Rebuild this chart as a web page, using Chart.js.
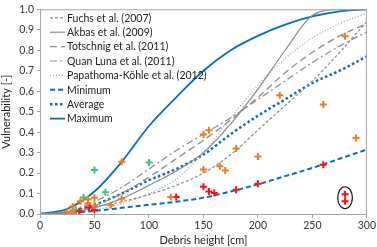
<!DOCTYPE html>
<html>
<head>
<meta charset="utf-8">
<script src="https://cdn.jsdelivr.net/npm/chart.js@4"></script>
<style>
  html, body { margin: 0; padding: 0; background: #fff; }
  #wrap { width: 377px; height: 247px; }
</style>
</head>
<body>
<div id="wrap"><canvas id="vulnChart"></canvas></div>
<script>
// --- curve data (debris height in cm, vulnerability 0..1) ---
const heights   = [0, 25, 50, 75, 100, 125, 150, 175, 200, 225, 250, 275, 300];
const fuchs     = [0, 0.01, 0.035, 0.06, 0.095, 0.14, 0.2, 0.29, 0.41, 0.53, 0.65, 0.79, 0.94];
const akbas     = [0, 0.005, 0.03, 0.075, 0.14, 0.21, 0.3, 0.44, 0.61, 0.8, 0.97, 1.0, 1.0];
const totschnig = [0, 0.01, 0.04, 0.1, 0.18, 0.27, 0.36, 0.46, 0.57, 0.69, 0.79, 0.87, 0.93];
const quanLuna  = [0, 0.015, 0.06, 0.13, 0.22, 0.31, 0.39, 0.47, 0.56, 0.65, 0.74, 0.82, 0.89];
const papathoma = [0, 0.005, 0.02, 0.05, 0.1, 0.17, 0.3, 0.47, 0.63, 0.76, 0.86, 0.93, 0.98];
const minimum   = [0, 0.005, 0.015, 0.03, 0.045, 0.06, 0.08, 0.11, 0.145, 0.185, 0.225, 0.27, 0.315];
const average   = [0, 0.01, 0.045, 0.1, 0.165, 0.22, 0.29, 0.39, 0.48, 0.56, 0.64, 0.70, 0.77];
const maximum   = [0, 0.025, 0.11, 0.255, 0.43, 0.57, 0.70, 0.80, 0.87, 0.925, 0.965, 0.99, 1.0];

// --- observed damage points ---
const orangeX = [25, 29, 30, 37, 44, 44, 50, 50, 65, 75, 75, 120, 150, 155, 150, 165, 170, 180, 200, 220, 260, 280, 290];
const orangeY = [0.011, 0.006, 0.037, 0.062, 0.072, 0.052, 0.079, 0.04, 0.043, 0.075, 0.255, 0.083, 0.388, 0.409, 0.217, 0.233, 0.213, 0.32, 0.281, 0.58, 0.535, 0.868, 0.371];
const redX = [36, 45, 50, 125, 150, 155, 160, 180, 200, 260, 280, 280];
const redY = [0.014, 0.033, 0.019, 0.083, 0.133, 0.11, 0.102, 0.119, 0.148, 0.241, 0.097, 0.062];
const greenX = [33, 40, 50, 60, 100];
const greenY = [0.018, 0.08, 0.215, 0.106, 0.252];

const xTicks = [0, 50, 100, 150, 200, 250, 300];

const pts = (xs, ys) => xs.map((x, i) => ({ x: x, y: ys[i] }));

const gray = '#8c8c8c';
const blue = '#0070c0';

function curve(label, values, color, dash, width) {
    return {
        type: 'line', label: label, data: pts(heights, values),
        borderColor: color, borderDash: dash, borderWidth: width,
        pointRadius: 0, fill: false, cubicInterpolationMode: 'monotone', order: 2
    };
}
function marks(label, xs, ys, color) {
    return {
        type: 'scatter', label: label, data: pts(xs, ys),
        pointStyle: 'cross', pointRadius: 3.5, borderWidth: 2,
        borderColor: color, backgroundColor: color, order: 1, isMarks: true
    };
}

// legend drawn inside the plot, top-left
const insideLegend = {
    id: 'insideLegend',
    afterDatasetsDraw(chart) {
        const { ctx, chartArea } = chart;
        let y = chartArea.top + 8.5;
        ctx.save();
        ctx.font = '10.5px Lato';
        ctx.textBaseline = 'middle';
        chart.data.datasets.forEach(ds => {
            if (ds.isMarks) return;
            ctx.beginPath();
            ctx.setLineDash(ds.borderDash || []);
            ctx.strokeStyle = ds.borderColor;
            ctx.lineWidth = ds.borderWidth;
            ctx.moveTo(chartArea.left + 10, y);
            ctx.lineTo(chartArea.left + 25, y);
            ctx.stroke();
            ctx.setLineDash([]);
            ctx.fillStyle = '#222';
            ctx.fillText(ds.label, chartArea.left + 27, y + 0.5);
            y += 14.4;
        });
        ctx.restore();
    }
};

// plot frame and the circled pair of points at the largest height
const frameAndRing = {
    id: 'frameAndRing',
    afterDatasetsDraw(chart) {
        const { ctx, chartArea, scales } = chart;
        ctx.save();
        ctx.strokeStyle = '#a6a6a6';
        ctx.lineWidth = 1;
        ctx.strokeRect(chartArea.left + 0.5, chartArea.top + 0.5, chartArea.width - 1, chartArea.height);
        const idx = redX.map((x, i) => i).filter(i => redX[i] === 280);
        const cy = idx.reduce((s, i) => s + redY[i], 0) / idx.length;
        ctx.beginPath();
        ctx.strokeStyle = '#111';
        ctx.lineWidth = 1.2;
        ctx.ellipse(scales.x.getPixelForValue(280), scales.y.getPixelForValue(cy), 7.3, 11, 0, 0, Math.PI * 2);
        ctx.stroke();
        ctx.restore();
    }
};

new Chart(document.getElementById('vulnChart'), {
    type: 'line',
    data: {
        datasets: [
            marks('obs orange', orangeX, orangeY, '#f07d1e'),
            marks('obs red', redX, redY, '#ff1010'),
            marks('obs green', greenX, greenY, '#3cc47c'),
            curve('Fuchs et al. (2007)', fuchs, gray, [3, 2], 1.2),
            curve('Akbas et al. (2009)', akbas, gray, [], 1.2),
            curve('Totschnig et al. (2011)', totschnig, gray, [7, 4], 1.3),
            curve('Quan Luna et al. (2011)', quanLuna, gray, [7, 3, 2, 3], 1.2),
            curve('Papathoma-Köhle et al. (2012)', papathoma, '#a0a0a0', [1, 2], 1.2),
            curve('Minimum', minimum, blue, [5, 3], 2),
            curve('Average', average, blue, [2.5, 2.5], 2.5),
            curve('Maximum', maximum, blue, [], 1.8)
        ]
    },
    options: {
        responsive: true,
        maintainAspectRatio: false,
        animation: false,
        layout: { padding: { top: 4, right: 9, left: 0, bottom: 0 } },
        plugins: { legend: { display: false }, tooltip: { enabled: false } },
        scales: {
            x: {
                type: 'linear', min: 0, max: 300,
                afterBuildTicks: s => { s.ticks = xTicks.map(v => ({ value: v })); },
                afterFit: s => { s.height = 33; },
                grid: { drawOnChartArea: false, tickLength: 4, color: '#a6a6a6' },
                border: { color: '#a6a6a6' },
                ticks: { font: { family: 'Lato', size: 10.5 }, color: '#333', padding: 1, maxRotation: 0 },
                title: { display: true, text: 'Debris height [cm]', font: { family: 'Lato', size: 11 }, color: '#222', padding: { top: 2, bottom: 0 } }
            },
            y: {
                min: 0, max: 1,
                afterFit: s => { s.width = 40; },
                grid: { drawOnChartArea: false, tickLength: 3, color: '#a6a6a6' },
                border: { color: '#a6a6a6' },
                ticks: { stepSize: 0.1, font: { family: 'Lato', size: 10.5 }, color: '#333', padding: 3,
                         callback: v => v.toFixed(1) },
                title: { display: true, text: 'Vulnerability [-]', font: { family: 'Lato', size: 11 }, color: '#222', padding: 0 }
            }
        }
    },
    plugins: [insideLegend, frameAndRing]
});
</script>
</body>
</html>
